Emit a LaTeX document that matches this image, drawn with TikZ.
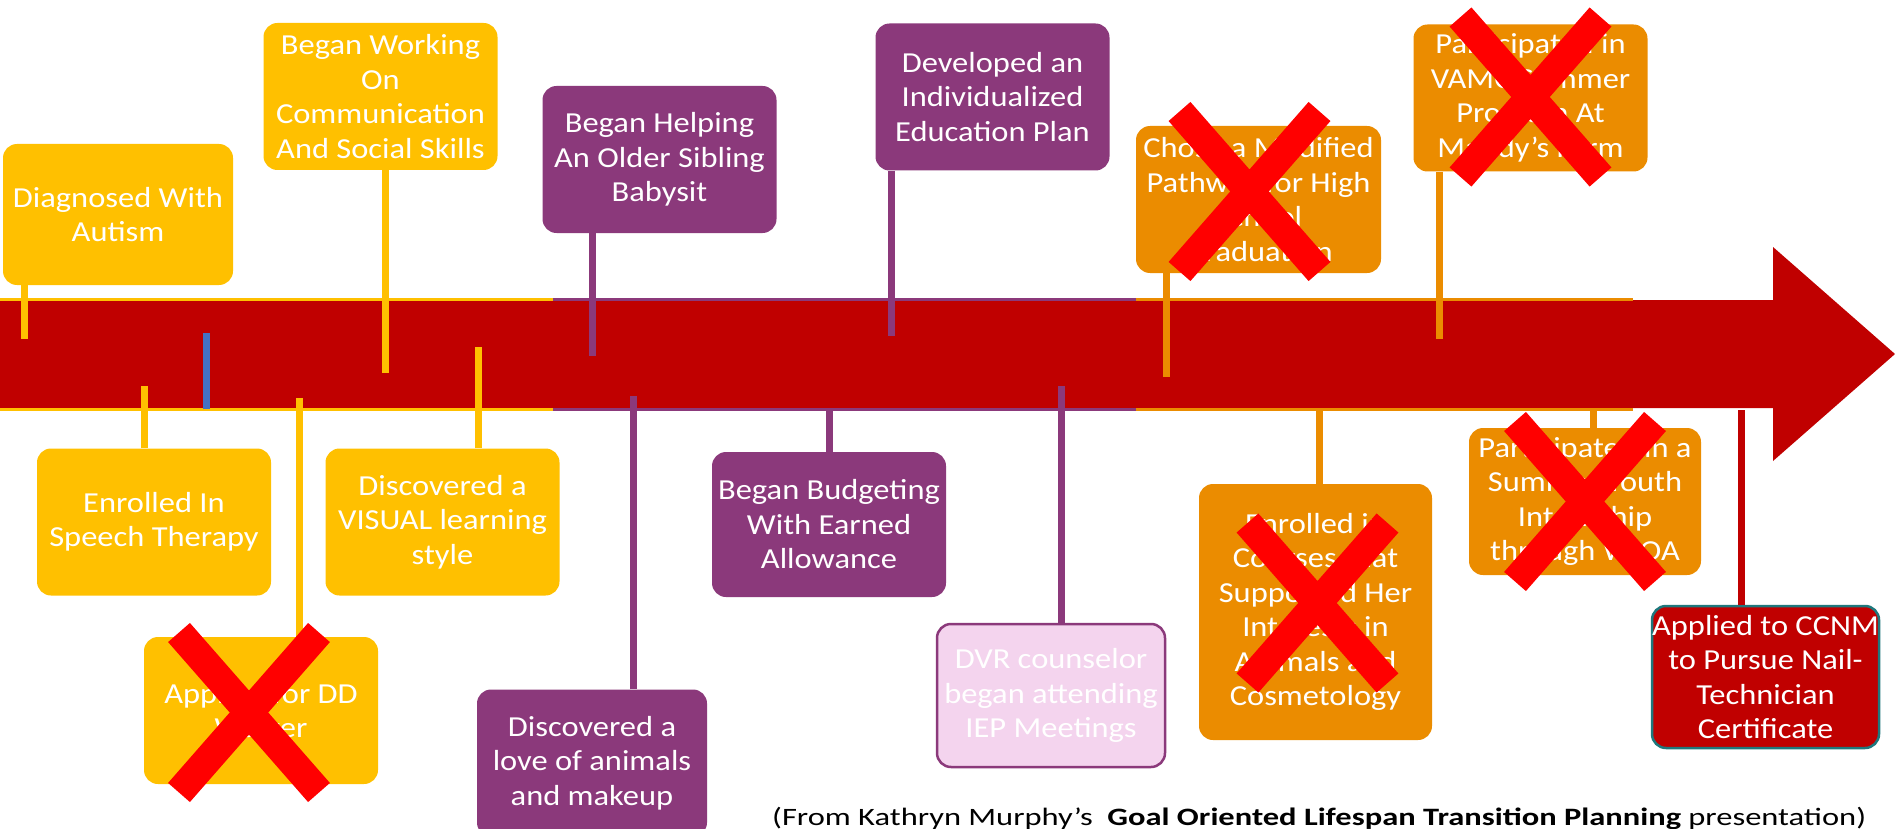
\documentclass[tikz,border=0pt]{standalone}
\usepackage{fontspec}
\setmainfont{Carlito}
\newfontfamily\boxfont{Carlito}[FakeStretch=1.12]
\newfontfamily\creditfont{Carlito}[FakeStretch=1.3]
\usepackage{tikz}
\usetikzlibrary{calc}

\definecolor{tlyellow}{RGB}{255,192,0}
\definecolor{tlpurple}{RGB}{139,57,123}
\definecolor{tlorange}{RGB}{235,140,0}
\definecolor{tlred}{RGB}{192,0,0}
\definecolor{tlpink}{RGB}{244,212,238}
\definecolor{tlteal}{RGB}{30,120,125}
\definecolor{tlblue}{RGB}{68,114,196}

\newcommand{\crossout}[2]{%
    \draw[xbar] ($(#1)+(#2)+(-70,-80)$) -- ($(#1)+(#2)+(70,80)$)
                ($(#1)+(#2)+(70,-80)$) -- ($(#1)+(#2)+(-70,80)$);}

\begin{document}
\begin{tikzpicture}[
        x=1pt,y=-1pt,
        evt/.style={rectangle,rounded corners=14pt,minimum width=234pt,minimum height=147pt,
            inner sep=0pt,align=center,text=white,font=\boxfont\fontsize{29}{34.5}\selectfont},
        link/.style={line width=7pt},
        rim/.style={line width=3pt},
        xbar/.style={draw=red,line width=29pt}
    ]
        \useasboundingbox (0,0) rectangle (1895,829);

        \fill[tlred] (0,300) -- (1773,300) -- (1773,247) -- (1895,354)
            -- (1773,461) -- (1773,408) -- (0,408) -- cycle;
        \draw[rim,tlyellow] (0,299) -- (553,299) (0,409) -- (553,409);
        \draw[rim,tlpurple] (553,299) -- (1136,299) (553,409) -- (1136,409);
        \draw[rim,tlorange] (1136,299) -- (1633,299) (1136,409) -- (1633,409);

        \node[evt,fill=tlyellow,minimum width=230pt,minimum height=141pt] (diag) at (118,214.5) {Diagnosed With\\Autism};
        \node[evt,fill=tlyellow] (comm) at (380.5,96.5) {Began Working\\On\\Communication\\And Social Skills};
        \node[evt,fill=tlyellow] (speech) at (154,522) {Enrolled In\\Speech Therapy};
        \node[evt,fill=tlyellow] (visual) at (442.5,522) {Discovered a\\VISUAL learning\\style};
        \node[evt,fill=tlyellow] (waiver) at (261,710.5) {Applied for DD\\Waiver};
        \node[evt,fill=tlpurple] (sibling) at (659.5,159.5) {Began Helping\\An Older Sibling\\Babysit};
        \node[evt,fill=tlpurple] (iep) at (992.5,97) {Developed an\\Individualized\\Education Plan};
        \node[evt,fill=tlpurple,minimum width=230pt] (animals) at (592,763) {Discovered a\\love of animals\\and makeup};
        \node[evt,fill=tlpurple,minimum height=145pt] (budget) at (829,524.5) {Began Budgeting\\With Earned\\Allowance};
        \node[evt,fill=tlpink,draw=tlpurple,line width=2.5pt,minimum width=228pt,minimum height=143pt] (dvr) at (1051,695.5) {DVR counselor\\began attending\\IEP Meetings};
        \node[evt,fill=tlorange,minimum width=245pt] (pathway) at (1258.5,199.5) {Chose a Modified\\Pathway for High\\School\\Graduation};
        \node[evt,fill=tlorange] (vamc) at (1530.5,98) {Participated in\\VAMC Summer\\Program At\\Mandy’s Farm};
        \node[evt,fill=tlorange,minimum width=233pt,minimum height=256pt] (courses) at (1315.5,612) {Enrolled in\\Courses that\\Supported Her\\Interests in\\Animals and\\Cosmetology};
        \node[evt,fill=tlorange,minimum width=232pt] (intern) at (1585,501.5) {Participated in a\\Summer Youth\\Internship\\through WIOA};
        \node[evt,fill=tlred,draw=tlteal,line width=2.5pt,minimum width=227pt,minimum height=142pt] (ccnm) at (1765.5,677) {Applied to CCNM\\to Pursue Nail-\\Technician\\Certificate};

        \coordinate (diag-t) at (24,339);
        \coordinate (comm-t) at (385,373);
        \coordinate (speech-t) at (144,386);
        \coordinate (visual-t) at (478,347);
        \coordinate (waiver-t) at (299,398);
        \coordinate (mark-a) at (206,333);
        \coordinate (mark-b) at (206,409);
        \coordinate (sibling-t) at (592,356);
        \coordinate (iep-t) at (891,336);
        \coordinate (animals-t) at (633,396);
        \coordinate (budget-t) at (829,408);
        \coordinate (dvr-t) at (1061,386);
        \coordinate (pathway-t) at (1166,377);
        \coordinate (vamc-t) at (1439,339);
        \coordinate (courses-t) at (1319,408);
        \coordinate (intern-t) at (1593,408);
        \coordinate (ccnm-t) at (1741,410);

        \draw[link,tlyellow] (diag-t |- diag.south) -- (diag-t);
        \draw[link,tlyellow] (comm-t |- comm.south) -- (comm-t);
        \draw[link,tlyellow] (speech-t |- speech.north) -- (speech-t);
        \draw[link,tlyellow] (visual-t |- visual.north) -- (visual-t);
        \draw[link,tlyellow] (waiver-t |- waiver.north) -- (waiver-t);
        \draw[link,tlblue] (mark-a) -- (mark-b);
        \draw[link,tlpurple] (sibling-t |- sibling.south) -- (sibling-t);
        \draw[link,tlpurple] (iep-t |- iep.south) -- (iep-t);
        \draw[link,tlpurple] (animals-t |- animals.north) -- (animals-t);
        \draw[link,tlpurple] (budget-t |- budget.north) -- (budget-t);
        \draw[link,tlpurple] (dvr-t |- dvr.north) -- (dvr-t);
        \draw[link,tlorange] (pathway-t |- pathway.south) -- (pathway-t);
        \draw[link,tlorange] (vamc-t |- vamc.south) -- (vamc-t);
        \draw[link,tlorange] (courses-t |- courses.north) -- (courses-t);
        \draw[link,tlorange] (intern-t |- intern.north) -- (intern-t);
        \draw[link,tlred] (ccnm-t |- ccnm.north) -- (ccnm-t);

        \crossout{waiver}{-12,2}
        \crossout{pathway}{-9,-8}
        \crossout{vamc}{0,-1}
        \crossout{courses}{2,-9}
        \crossout{intern}{0,0}

        \node[anchor=base west,inner sep=0pt,font=\creditfont\fontsize{25}{30}\selectfont] (credit) at (772,825)
            {(From Kathryn Murphy’s\ \ \textbf{Goal Oriented Lifespan Transition Planning} presentation)};
    \end{tikzpicture}
\end{document}
